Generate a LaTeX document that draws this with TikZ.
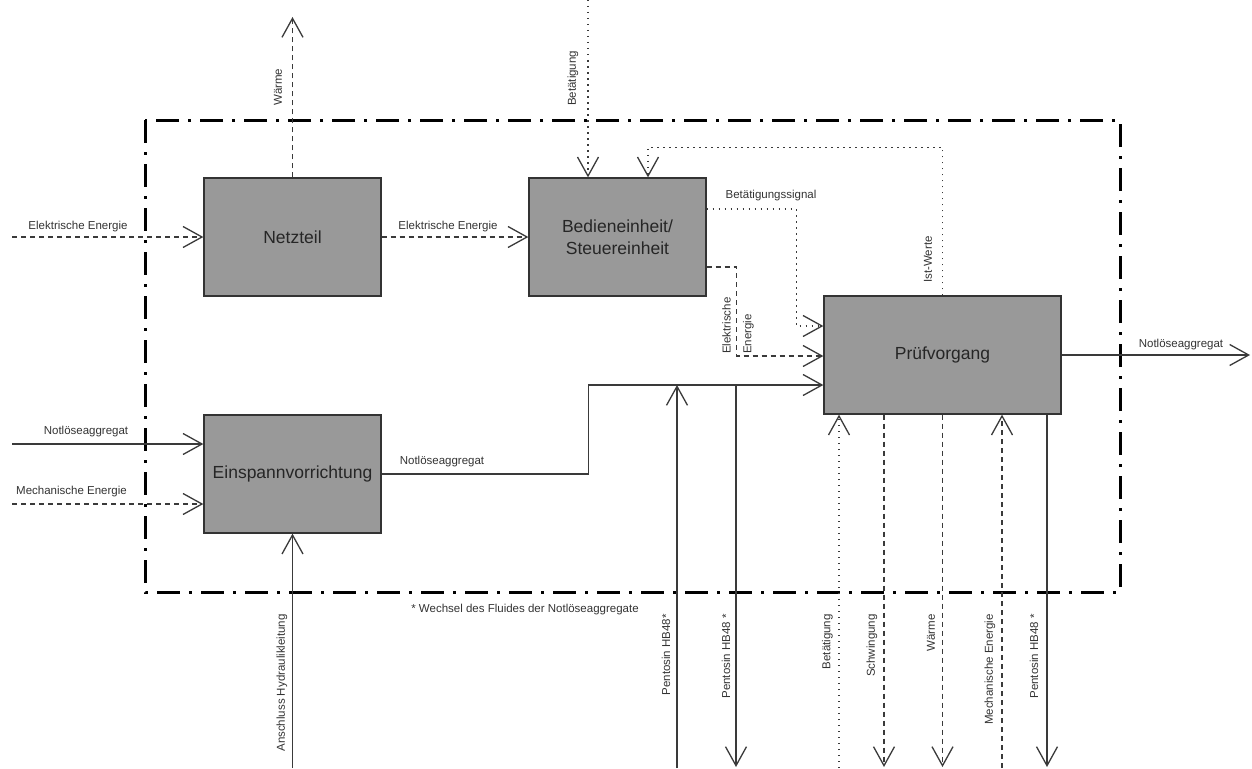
\documentclass[tikz,border=0pt]{standalone}
\usepackage{fontspec}
\setmainfont{Liberation Sans}
\usetikzlibrary{arrows.meta}
\definecolor{boxgray}{HTML}{999999}
\definecolor{ink}{HTML}{333333}
\definecolor{wire}{HTML}{3A3A3A}

\begin{document}
\begin{tikzpicture}[x=1pt,y=-1pt,
  block/.style={draw=ink, line width=1.3pt, fill=boxgray, minimum width=177pt,
    minimum height=118pt, inner sep=0pt, align=center, text=black!85,
    font=\fontsize{17.5}{21.5}\selectfont},
  flow/.style={draw=wire, line width=1.1pt,
    -{Straight Barb[length=19pt,width=21pt,line width=1.3pt]}},
  material/.style={solid},
  energy/.style={dash pattern=on 5pt off 4pt},
  signal/.style={line width=1.5pt, dash pattern=on 1.5pt off 4.5pt},
  lbl/.style={inner sep=0pt, text=ink, font=\fontsize{11.5}{13.8}\selectfont},
  vlbl/.style={lbl, rotate=90},
  sysborder/.style={draw=black, line width=3pt,
    dash pattern=on 23pt off 9pt on 3pt off 9pt}
]
\useasboundingbox (0,0) rectangle (1252,768);

% system boundary
\draw[sysborder] (145,120) rectangle (1120,592);

% function blocks
\node[block] (net) at (292.5,237) {Netzteil};
\node[block] (bed) at (617.5,237) {Bedieneinheit/\\Steuereinheit};
\node[block] (ein) at (292.5,474) {Einspannvorrichtung};
\node[block, minimum width=237pt] (pv) at (942.5,355) {Prüfvorgang};

% free ends outside the boundary
\coordinate (eIn)  at (12,237);
\coordinate (nIn)  at (12,444);
\coordinate (mIn)  at (12,504);
\coordinate (wTop) at (292.5,17);
\coordinate (bTop) at (588,0);
\coordinate (hyd)  at (292.5,768);
\coordinate (nOut) at (1250,355);
\coordinate (pUpBot) at (677,768);
\coordinate (pUpTop) at (677,385);
\coordinate (pDnTop) at (736,385);
\coordinate (pDnBot) at (736,767);

% Netzteil
\draw[flow,energy] (eIn) -- (net.west);
\draw[flow,energy] (net.north) -- (wTop);
\draw[flow,energy] (net.east) -- (bed.west);

% Bedieneinheit / Steuereinheit
\draw[flow,signal] (bTop) -- ([xshift=-29.5pt]bed.north);
\draw[flow,signal] (pv.north) -- ++(0,-148) -| ([xshift=30.5pt]bed.north);
\draw[flow,signal] ([yshift=28pt]bed.east) -- ++(90,0) |- ([yshift=29pt]pv.west);
\draw[flow,energy] ([yshift=-30pt]bed.east) -- ++(30,0) |- ([yshift=-1pt]pv.west);

% Einspannvorrichtung
\draw[flow,material] (nIn) -- ([yshift=30pt]ein.west);
\draw[flow,energy] (mIn) -- ([yshift=-30pt]ein.west);
\draw[flow,material] (hyd) -- (ein.south);
\draw[flow,material] (ein.east) -- ++(207,0) |- ([yshift=-30pt]pv.west);

% fluid exchange
\draw[flow,material] (pUpBot) -- (pUpTop);
\draw[flow,material] (pDnTop) -- (pDnBot);

% Pruefvorgang
\draw[flow,material] (pv.east) -- (nOut);
\draw[flow,signal] ([xshift=-103.5pt]pv.south |- 0,768) -- ([xshift=-103.5pt]pv.south);
\draw[flow,energy] ([xshift=-58.5pt]pv.south) -- ([xshift=-58.5pt]pv.south |- 0,767);
\draw[flow,energy] (pv.south) -- (pv.south |- 0,767);
\draw[flow,energy] ([xshift=59.5pt]pv.south |- 0,768) -- ([xshift=59.5pt]pv.south);
\draw[flow,material] ([xshift=104.5pt]pv.south) -- ([xshift=104.5pt]pv.south |- 0,767);

% labels
\node[lbl] (lEin) at (78,227) {Elektrische Energie};
\node[lbl] (lEnb) at (448,227) {Elektrische Energie};
\node[lbl] (lSig) at (771,196) {Betätigungssignal};
\node[lbl] (lNin) at (86,432) {Notlöseaggregat};
\node[lbl] (lMin) at (71.5,492) {Mechanische Energie};
\node[lbl] (lNmid) at (442,462) {Notlöseaggregat};
\node[lbl] (lNout) at (1181,345) {Notlöseaggregat};
\node[lbl] (lNote) at (525,610) {* Wechsel des Fluides der Notlöseaggregate};

\node[vlbl, anchor=west] (lWt) at (278,106) {Wärme};
\node[vlbl, anchor=west] (lBt) at (573,106) {Betätigung};
\node[vlbl, anchor=west] (lIst) at (928,283) {Ist-Werte};
\node[vlbl, anchor=west, align=left] (lEe) at (738,354) {Elektrische\\[7pt]Energie};

\node[vlbl, anchor=east] (lHyd) at (282,614) {Anschluss Hydraulikleitung};
\node[vlbl, anchor=east] (lP1) at (666,614) {Pentosin HB48*};
\node[vlbl, anchor=east] (lP2) at (726,614) {Pentosin HB48 *};
\node[vlbl, anchor=east] (lBb) at (827.5,614) {Betätigung};
\node[vlbl, anchor=east] (lSw) at (872,614) {Schwingung};
\node[vlbl, anchor=east] (lWb) at (931,614) {Wärme};
\node[vlbl, anchor=east] (lMe) at (990,614) {Mechanische Energie};
\node[vlbl, anchor=east] (lP3) at (1034,614) {Pentosin HB48 *};
\end{tikzpicture}
\end{document}
